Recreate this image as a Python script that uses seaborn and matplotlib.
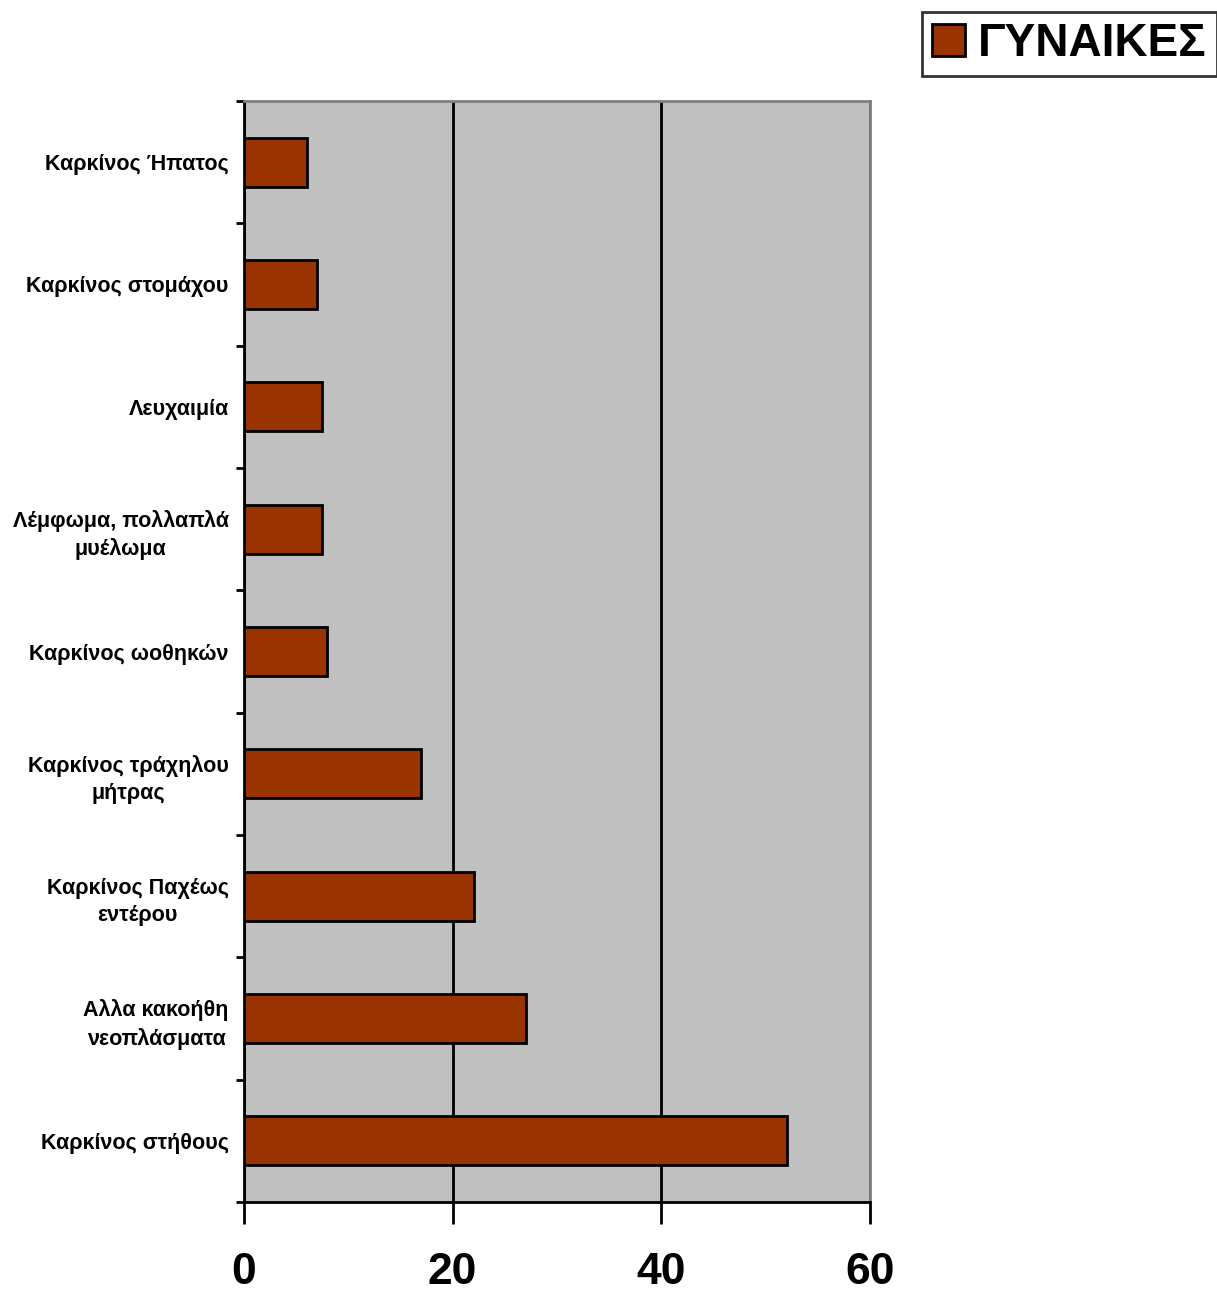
import matplotlib
matplotlib.use('Agg')
import matplotlib.pyplot as plt
import seaborn as sns
import pandas as pd
from matplotlib.patches import Patch

# δεδομένα
categories = ['Καρκίνος Ήπατος', 'Καρκίνος στομάχου', 'Λευχαιμία',
              'Λέμφωμα, πολλαπλά\nμυέλωμα', 'Καρκίνος ωοθηκών',
              'Καρκίνος τράχηλου\nμήτρας', 'Καρκίνος Παχέως\nεντέρου',
              'Αλλα κακοήθη\nνεοπλάσματα', 'Καρκίνος στήθους']
values = [6, 7, 7.5, 7.5, 8, 17, 22, 27, 52]
xticks = [0, 20, 40, 60]
series_name = 'ΓΥΝΑΙΚΕΣ'

df = pd.DataFrame({'cat': categories, 'val': values})

sns.set_style('white', {'xtick.bottom': True, 'ytick.left': True,
                        'text.color': 'black', 'xtick.color': 'black',
                        'ytick.color': 'black'})
plt.rcParams['font.family'] = ['Liberation Sans', 'DejaVu Sans']

fig = plt.figure(figsize=(12.17, 12.91), dpi=100)
ax = fig.add_axes([0.2005, 0.0689, 0.5144, 0.8529])
ax.set_facecolor('#C0C0C0')

sns.barplot(data=df, y='cat', x='val', orient='h', color='#993300',
            width=0.4, edgecolor='black', linewidth=2, saturation=1, ax=ax)

ax.set_xlim(0, 60)
ax.set_ylim(8.5, -0.5)
ax.set_xticks(xticks)
ax.set_xticklabels([str(t) for t in xticks], fontsize=32, fontweight='bold')
ax.tick_params(axis='x', length=16, width=2, pad=20, color='black',
               labelcolor='black')
ax.xaxis.grid(True, color='black', linewidth=2)
ax.set_axisbelow(True)

# labels at centres, ticks between categories
ax.set_yticks(range(len(categories)))
ax.set_yticklabels(categories, fontsize=15.5, fontweight='bold',
                   multialignment='center', linespacing=1.4)
ax.tick_params(axis='y', which='major', length=0, pad=11, labelcolor='black')
ax.set_yticks([i + 0.5 for i in range(-1, len(categories))], minor=True)
ax.tick_params(axis='y', which='minor', length=6, width=2, color='black')

ax.set_xlabel('')
ax.set_ylabel('')

for s in ['left', 'bottom']:
    ax.spines[s].set_color('black')
    ax.spines[s].set_linewidth(2)
for s in ['top', 'right']:
    ax.spines[s].set_color('#808080')
    ax.spines[s].set_linewidth(2)

handle = Patch(facecolor='#993300', edgecolor='black', linewidth=2)
leg = fig.legend([handle], [series_name], loc='upper right',
                 bbox_to_anchor=(1.0, 0.991),
                 prop={'weight': 'bold', 'size': 33},
                 frameon=True, fancybox=False, edgecolor='black',
                 handlelength=0.7, handleheight=0.7, handletextpad=0.3,
                 borderpad=0.22, borderaxespad=0, labelcolor='black')
leg.get_frame().set_linewidth(2)

fig.savefig('out.png', dpi=100)
